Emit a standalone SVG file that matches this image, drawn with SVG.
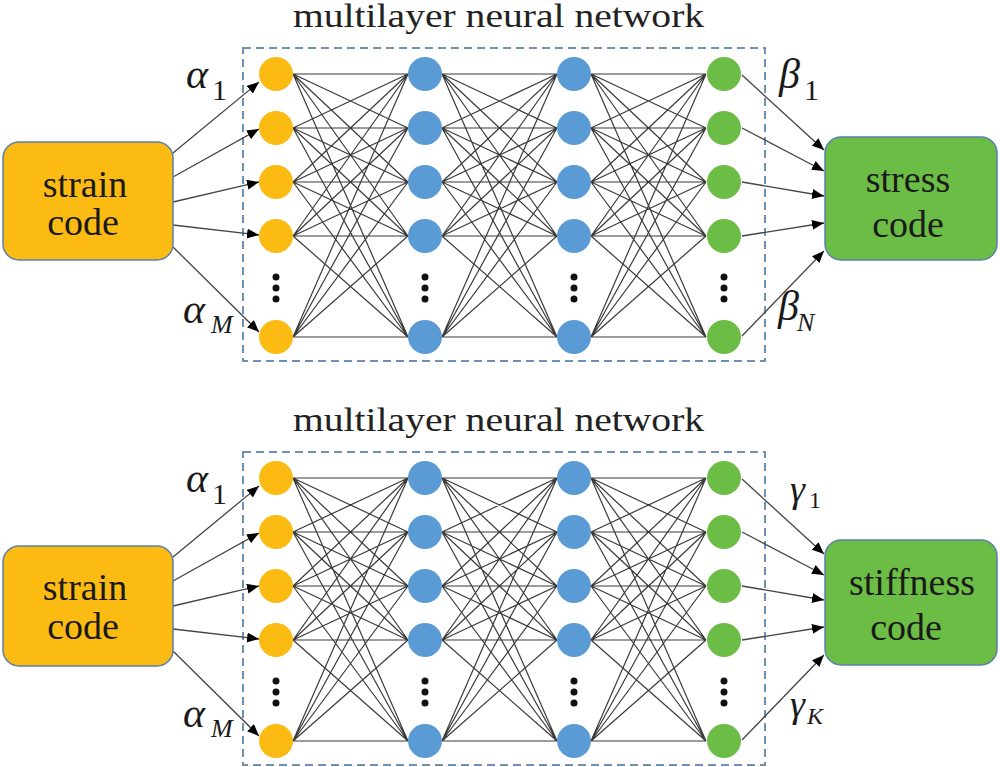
<svg xmlns="http://www.w3.org/2000/svg" width="1000" height="767" viewBox="0 0 1000 767">
<defs>
<marker id="ah" markerUnits="userSpaceOnUse" markerWidth="12" markerHeight="10" refX="12" refY="5" orient="auto">
<path d="M0,0 L12,5 L0,10 z" fill="#000000"/>
</marker>
<path id="pair1" d="M293 74L408 74M293 74L408 128M293 74L408 182M293 74L408 236M293 74L408 337M293 128L408 74M293 128L408 128M293 128L408 182M293 128L408 236M293 128L408 337M293 182L408 74M293 182L408 128M293 182L408 182M293 182L408 236M293 182L408 337M293 236L408 74M293 236L408 128M293 236L408 182M293 236L408 236M293 236L408 337M293 337L408 74M293 337L408 128M293 337L408 182M293 337L408 236M293 337L408 337"/>
</defs>
<rect x="0" y="0" width="1000" height="767" fill="#ffffff"/>

<!-- ===== top panel ===== -->
<g id="top-panel">
<text transform="translate(293,27) scale(1.2,1)" x="0" y="0" font-family="Liberation Serif" font-size="33" fill="#222222">multilayer neural network</text>
<rect id="top-frame" x="243" y="48" width="522" height="313" fill="none" stroke="#6E90B2" stroke-width="2" stroke-dasharray="8 5"/>

<g id="top-connectors">
<g fill="none" stroke="#3a3a3a" stroke-width="1.2">
<use href="#pair1"/>
<use href="#pair1" transform="translate(149,0)"/>
<use href="#pair1" transform="translate(298,0)"/>
</g>
<g fill="none" stroke="#444444" stroke-width="1.3">
<path marker-end="url(#ah)" d="M173 153L259 82"/>
<path marker-end="url(#ah)" d="M173 177L259 129"/>
<path marker-end="url(#ah)" d="M173 202L259 182"/>
<path marker-end="url(#ah)" d="M173 225L259 235"/>
<path marker-end="url(#ah)" d="M173 247L259 332"/>
<path marker-end="url(#ah)" d="M742 75L824 150"/>
<path marker-end="url(#ah)" d="M742 128L824 171"/>
<path marker-end="url(#ah)" d="M742 182L824 196"/>
<path marker-end="url(#ah)" d="M742 236L824 223"/>
<path marker-end="url(#ah)" d="M742 336L824 251"/>
</g>
</g>

<g id="top-strain"><rect x="3" y="142" width="170" height="118" rx="16" fill="#FCBB12" stroke="#5A80A8" stroke-width="1.5"/>
<text x="85" y="197" font-family="Liberation Serif" font-size="38" fill="#1a1a1a" text-anchor="middle">strain</text>
<text x="83" y="235" font-family="Liberation Serif" font-size="38" fill="#1a1a1a" text-anchor="middle">code</text></g>
<g id="top-stress"><rect x="825" y="137" width="172" height="123" rx="16" fill="#6CBD45" stroke="#5A80A8" stroke-width="1.5"/>
<text x="908" y="192" font-family="Liberation Serif" font-size="38" fill="#1a1a1a" text-anchor="middle">stress</text>
<text x="908" y="237" font-family="Liberation Serif" font-size="38" fill="#1a1a1a" text-anchor="middle">code</text></g>

<g id="top-input-layer" fill="#FCBB12">
<g id="top-in-1"><circle cx="276" cy="74" r="17"/></g>
<g id="top-in-2"><circle cx="276" cy="128" r="17"/></g>
<g id="top-in-3"><circle cx="276" cy="182" r="17"/></g>
<g id="top-in-4"><circle cx="276" cy="236" r="17"/></g>
<g id="top-in-M"><circle cx="276" cy="337" r="17"/></g>
</g>
<g id="top-hidden-1" fill="#5B9BD5">
<g id="top-h1-1"><circle cx="425" cy="74" r="17"/></g>
<g id="top-h1-2"><circle cx="425" cy="128" r="17"/></g>
<g id="top-h1-3"><circle cx="425" cy="182" r="17"/></g>
<g id="top-h1-4"><circle cx="425" cy="236" r="17"/></g>
<g id="top-h1-n"><circle cx="425" cy="337" r="17"/></g>
</g>
<g id="top-hidden-2" fill="#5B9BD5">
<g id="top-h2-1"><circle cx="574" cy="74" r="17"/></g>
<g id="top-h2-2"><circle cx="574" cy="128" r="17"/></g>
<g id="top-h2-3"><circle cx="574" cy="182" r="17"/></g>
<g id="top-h2-4"><circle cx="574" cy="236" r="17"/></g>
<g id="top-h2-n"><circle cx="574" cy="337" r="17"/></g>
</g>
<g id="top-output-layer" fill="#6CBD45">
<g id="top-out-1"><circle cx="724" cy="74" r="17"/></g>
<g id="top-out-2"><circle cx="724" cy="128" r="17"/></g>
<g id="top-out-3"><circle cx="724" cy="182" r="17"/></g>
<g id="top-out-4"><circle cx="724" cy="236" r="17"/></g>
<g id="top-out-N"><circle cx="724" cy="337" r="17"/></g>
</g>
<g id="top-dots" fill="#111111">
<circle cx="276" cy="277" r="3.5"/><circle cx="276" cy="288" r="3.5"/><circle cx="276" cy="299" r="3.5"/>
<circle cx="425" cy="277" r="3.5"/><circle cx="425" cy="288" r="3.5"/><circle cx="425" cy="299" r="3.5"/>
<circle cx="574" cy="277" r="3.5"/><circle cx="574" cy="288" r="3.5"/><circle cx="574" cy="299" r="3.5"/>
<circle cx="724" cy="277" r="3.5"/><circle cx="724" cy="288" r="3.5"/><circle cx="724" cy="299" r="3.5"/>
</g>

<g id="top-labels">
<text x="186" y="88" font-family="Liberation Serif" font-style="italic" font-size="42" fill="#1a1a1a">α</text>
<text x="212" y="100" font-family="Liberation Serif" font-size="30" fill="#1a1a1a">1</text>
<text x="183" y="323" font-family="Liberation Serif" font-style="italic" font-size="42" fill="#1a1a1a">α</text>
<text x="211" y="333" font-family="Liberation Serif" font-style="italic" font-size="26" fill="#1a1a1a">M</text>
<text x="779" y="88" font-family="Liberation Serif" font-style="italic" font-size="42" fill="#1a1a1a">β</text>
<text x="804" y="100" font-family="Liberation Serif" font-size="30" fill="#1a1a1a">1</text>
<text x="778" y="320" font-family="Liberation Serif" font-style="italic" font-size="42" fill="#1a1a1a">β</text>
<text x="797" y="331" font-family="Liberation Serif" font-style="italic" font-size="26" fill="#1a1a1a">N</text>
</g>
</g>

<!-- ===== bottom panel ===== -->
<g id="bottom-panel">
<text transform="translate(293,431) scale(1.2,1)" x="0" y="0" font-family="Liberation Serif" font-size="33" fill="#222222">multilayer neural network</text>
<rect id="bottom-frame" x="243" y="452" width="522" height="313" fill="none" stroke="#6E90B2" stroke-width="2" stroke-dasharray="8 5"/>

<g id="bottom-connectors" transform="translate(0,404)">
<g fill="none" stroke="#3a3a3a" stroke-width="1.2">
<use href="#pair1"/>
<use href="#pair1" transform="translate(149,0)"/>
<use href="#pair1" transform="translate(298,0)"/>
</g>
<g fill="none" stroke="#444444" stroke-width="1.3">
<path marker-end="url(#ah)" d="M173 153L259 82"/>
<path marker-end="url(#ah)" d="M173 177L259 129"/>
<path marker-end="url(#ah)" d="M173 202L259 182"/>
<path marker-end="url(#ah)" d="M173 225L259 235"/>
<path marker-end="url(#ah)" d="M173 247L259 332"/>
<path marker-end="url(#ah)" d="M742 75L824 150"/>
<path marker-end="url(#ah)" d="M742 128L824 171"/>
<path marker-end="url(#ah)" d="M742 182L824 196"/>
<path marker-end="url(#ah)" d="M742 236L824 223"/>
<path marker-end="url(#ah)" d="M742 336L824 251"/>
</g>
</g>

<g id="bottom-strain"><rect x="3" y="546" width="170" height="120" rx="16" fill="#FCBB12" stroke="#5A80A8" stroke-width="1.5"/>
<text x="85" y="600" font-family="Liberation Serif" font-size="38" fill="#1a1a1a" text-anchor="middle">strain</text>
<text x="83" y="639" font-family="Liberation Serif" font-size="38" fill="#1a1a1a" text-anchor="middle">code</text></g>
<g id="bottom-stiffness"><rect x="825" y="540" width="172" height="125" rx="16" fill="#6CBD45" stroke="#5A80A8" stroke-width="1.5"/>
<text x="912" y="595" font-family="Liberation Serif" font-size="38" fill="#1a1a1a" text-anchor="middle">stiffness</text>
<text x="906" y="640" font-family="Liberation Serif" font-size="38" fill="#1a1a1a" text-anchor="middle">code</text></g>

<g id="bottom-input-layer" fill="#FCBB12">
<g id="bottom-in-1"><circle cx="276" cy="478" r="17"/></g>
<g id="bottom-in-2"><circle cx="276" cy="532" r="17"/></g>
<g id="bottom-in-3"><circle cx="276" cy="586" r="17"/></g>
<g id="bottom-in-4"><circle cx="276" cy="640" r="17"/></g>
<g id="bottom-in-M"><circle cx="276" cy="741" r="17"/></g>
</g>
<g id="bottom-hidden-1" fill="#5B9BD5">
<g id="bottom-h1-1"><circle cx="425" cy="478" r="17"/></g>
<g id="bottom-h1-2"><circle cx="425" cy="532" r="17"/></g>
<g id="bottom-h1-3"><circle cx="425" cy="586" r="17"/></g>
<g id="bottom-h1-4"><circle cx="425" cy="640" r="17"/></g>
<g id="bottom-h1-n"><circle cx="425" cy="741" r="17"/></g>
</g>
<g id="bottom-hidden-2" fill="#5B9BD5">
<g id="bottom-h2-1"><circle cx="574" cy="478" r="17"/></g>
<g id="bottom-h2-2"><circle cx="574" cy="532" r="17"/></g>
<g id="bottom-h2-3"><circle cx="574" cy="586" r="17"/></g>
<g id="bottom-h2-4"><circle cx="574" cy="640" r="17"/></g>
<g id="bottom-h2-n"><circle cx="574" cy="741" r="17"/></g>
</g>
<g id="bottom-output-layer" fill="#6CBD45">
<g id="bottom-out-1"><circle cx="724" cy="478" r="17"/></g>
<g id="bottom-out-2"><circle cx="724" cy="532" r="17"/></g>
<g id="bottom-out-3"><circle cx="724" cy="586" r="17"/></g>
<g id="bottom-out-4"><circle cx="724" cy="640" r="17"/></g>
<g id="bottom-out-K"><circle cx="724" cy="741" r="17"/></g>
</g>
<g id="bottom-dots" fill="#111111">
<circle cx="276" cy="681" r="3.5"/><circle cx="276" cy="692" r="3.5"/><circle cx="276" cy="703" r="3.5"/>
<circle cx="425" cy="681" r="3.5"/><circle cx="425" cy="692" r="3.5"/><circle cx="425" cy="703" r="3.5"/>
<circle cx="574" cy="681" r="3.5"/><circle cx="574" cy="692" r="3.5"/><circle cx="574" cy="703" r="3.5"/>
<circle cx="724" cy="681" r="3.5"/><circle cx="724" cy="692" r="3.5"/><circle cx="724" cy="703" r="3.5"/>
</g>

<g id="bottom-labels">
<text x="186" y="492" font-family="Liberation Serif" font-style="italic" font-size="42" fill="#1a1a1a">α</text>
<text x="212" y="504" font-family="Liberation Serif" font-size="30" fill="#1a1a1a">1</text>
<text x="183" y="727" font-family="Liberation Serif" font-style="italic" font-size="42" fill="#1a1a1a">α</text>
<text x="211" y="737" font-family="Liberation Serif" font-style="italic" font-size="26" fill="#1a1a1a">M</text>
<text x="790" y="502" font-family="Liberation Serif" font-style="italic" font-size="38" fill="#1a1a1a">γ</text>
<text x="809" y="508" font-family="Liberation Serif" font-size="24" fill="#1a1a1a">1</text>
<text x="790" y="717" font-family="Liberation Serif" font-style="italic" font-size="38" fill="#1a1a1a">γ</text>
<text x="807" y="724" font-family="Liberation Serif" font-style="italic" font-size="24" fill="#1a1a1a">K</text>
</g>
</g>
</svg>
